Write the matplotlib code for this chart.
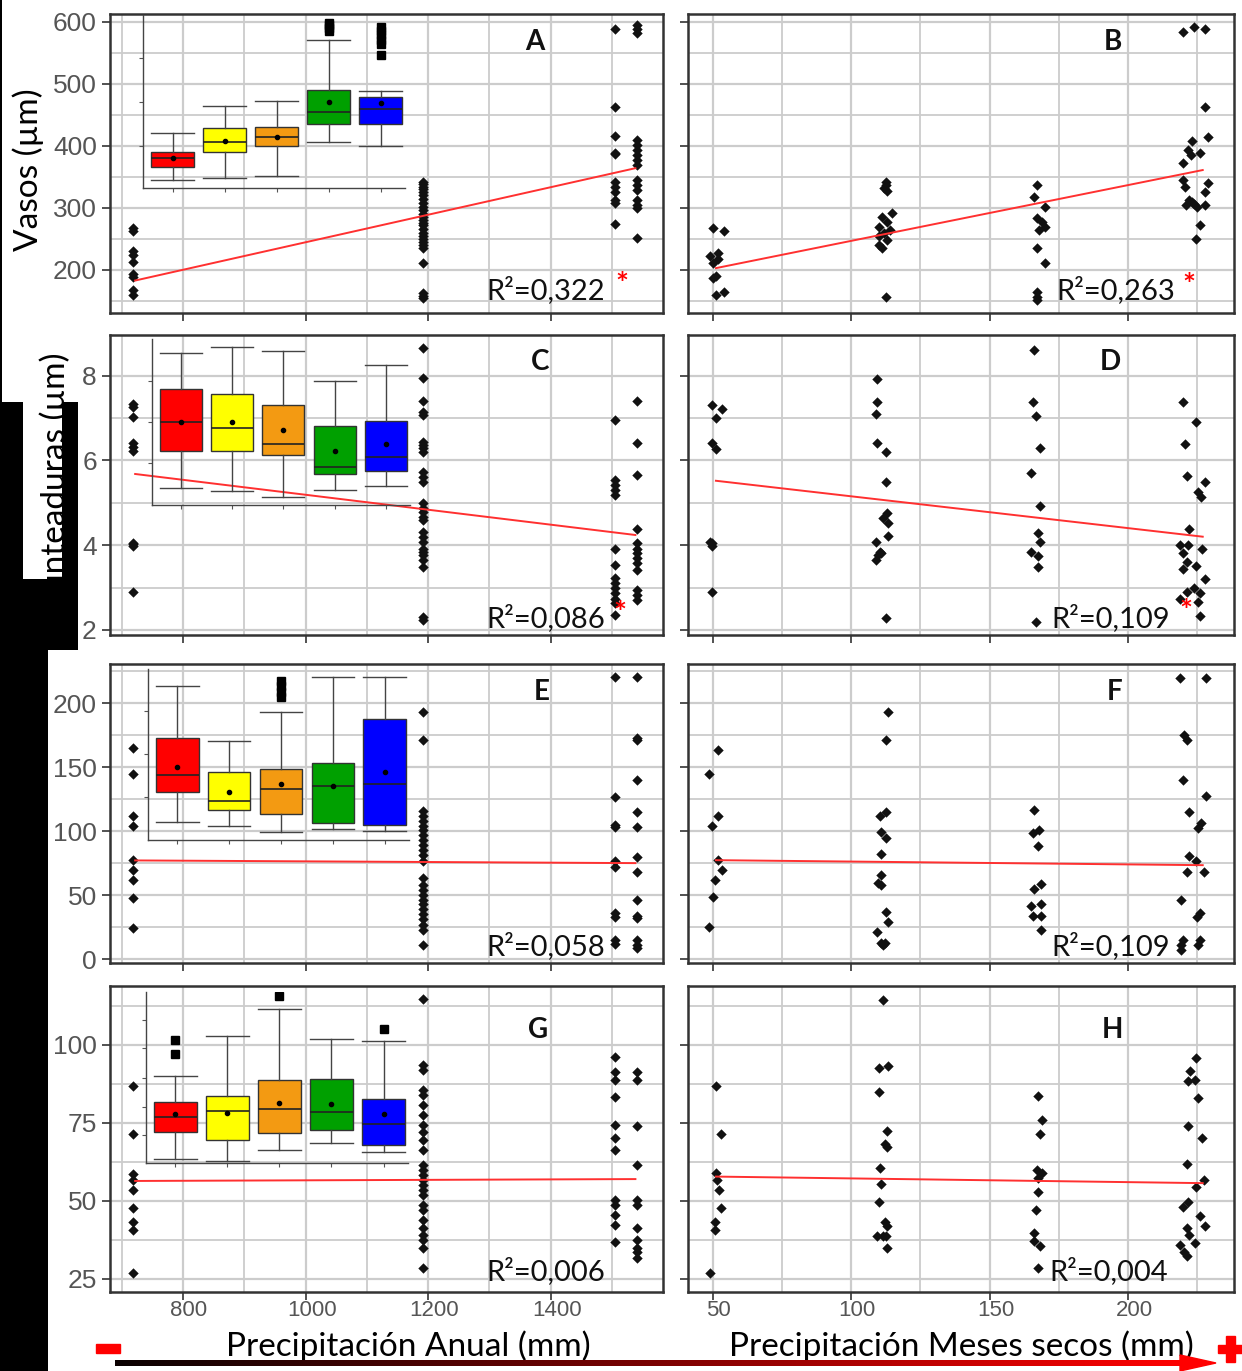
import numpy as np
import matplotlib.pyplot as plt
from matplotlib.colors import LinearSegmentedColormap
from matplotlib.patches import Rectangle, Polygon
from matplotlib.transforms import ScaledTranslation

plt.rcParams['font.family'] = ['Liberation Sans', 'DejaVu Sans']

W, H = 1242, 1371

# sites along annual precipitation (left column panels)
prec_anual = [718, 1192, 1504, 1540]

# A - Vasos vs Precipitacion anual (one list per site)
a_cols = [[268, 263, 230, 224, 213, 193, 188, 167, 160],
          [342, 338, 334, 330, 326, 320, 314, 308, 302, 296, 290, 285, 280, 276, 272,
           266, 260, 255, 250, 245, 240, 235, 212, 163, 158, 155],
          [589, 463, 416, 389, 387, 342, 334, 326, 313, 308, 274],
          [595, 589, 581, 410, 401, 393, 385, 377, 369, 345, 337, 329, 313, 305, 300, 251]]
# C - Punteaduras vs Precipitacion anual
c_cols = [[7.33, 7.25, 7.03, 6.42, 6.31, 6.23, 4.06, 4.02, 3.98, 2.9],
          [8.65, 7.94, 7.41, 7.15, 7.07, 6.44, 6.36, 6.29, 6.21, 5.73, 5.62, 5.50, 4.99, 4.87,
           4.79, 4.67, 4.59, 4.32, 4.20, 4.08, 3.92, 3.84, 3.77, 3.65, 3.49, 2.31, 2.23],
          [6.95, 5.54, 5.42, 5.30, 5.18, 3.92, 3.53, 3.22, 3.10, 2.98, 2.86, 2.74, 2.63, 2.35],
          [7.41, 6.40, 5.66, 4.38, 4.04, 3.92, 3.81, 3.69, 3.57, 3.41, 2.94, 2.82, 2.70]]
# E
e_cols = [[165, 144.5, 112, 104, 77.3, 69.5, 61.7, 47.9, 24.5],
          [193, 171, 116, 112, 108, 104, 101, 97, 93, 89, 85, 81, 77, 63, 58, 54, 50, 46, 43,
           39, 35, 31, 27, 23, 11],
          [220, 127, 105, 103, 77, 72, 36, 33, 15, 12],
          [220, 173, 171, 140, 115, 103, 80, 68, 46, 34, 32, 15, 11, 9]]
# G
g_cols = [[86.9, 71.5, 58.7, 56.7, 53.5, 47.7, 43.4, 40.7, 27.0],
          [114.7, 93.6, 92, 85.6, 84, 80.8, 77.6, 74.4, 72.1, 69.6, 66.3, 61.5, 59.9, 58.3,
           56.7, 55.1, 53.5, 51.9, 48.7, 47.1, 43.9, 41.3, 39.1, 37.5, 34.9, 28.5],
          [96.2, 91.3, 88.8, 83.3, 74.4, 70.2, 66.3, 50.3, 48.7, 45.5, 42.3, 36.9],
          [91.3, 88.8, 74.0, 61.5, 50.3, 48.7, 41.3, 37.5, 34.9, 33.7, 31.7]]

# right column panels: (precipitacion meses secos, value)
b_pts = [(50, 268), (54, 263), (49, 222), (52, 227), (50, 211), (51, 190), (50, 187), (51, 160),
         (54, 165), (52, 218),
         (112.5, 342), (112.5, 337), (112, 332), (113, 327), (114.8, 291), (111, 286), (113, 278),
         (110, 270), (114, 265), (112, 259), (110, 254), (113, 249), (110, 240), (111, 235),
         (112.5, 157),
         (167, 337), (166, 318), (170, 302), (167, 283), (169, 278), (170, 270), (168, 265),
         (167, 235), (170, 211), (167, 164), (167, 157), (167, 152),
         (220, 584), (224, 592), (228, 589), (228, 463), (229, 415), (223, 408), (221.5, 393),
         (226, 388), (222.8, 385), (220, 372), (220, 345), (229, 340), (220.5, 334), (228, 326),
         (222, 313), (223, 310), (224, 307), (221, 305), (225, 302), (228, 305), (226, 273),
         (224.5, 250)]
d_pts = [(49.5, 7.31), (53.4, 7.21), (51.1, 7.01), (49.5, 6.42), (51.1, 6.27), (49.1, 4.08),
         (49.8, 4.04), (49.5, 3.98), (49.8, 2.90),
         (109.4, 7.91), (109.4, 7.39), (109, 7.10), (109.4, 6.40), (112.5, 6.19), (112.5, 5.50),
         (112.9, 4.77), (111.6, 4.63), (113.3, 4.53), (113.3, 4.21), (109, 4.08), (110.3, 3.84),
         (109.6, 3.77), (109, 3.65), (110.9, 3.81), (112.5, 2.29),
         (166.2, 8.61), (165.6, 7.39), (166.8, 7.05), (168.1, 6.30), (164.9, 5.70), (168.1, 4.93),
         (167.5, 4.29), (168.1, 4.08), (164.9, 3.84), (167.5, 3.74), (167.5, 3.48), (166.8, 2.19),
         (219.9, 7.39), (224.7, 6.91), (220.5, 6.38), (221.4, 5.64), (227.7, 5.50), (225.3, 5.26),
         (226.4, 5.14), (222.1, 4.37), (218.8, 4.0), (221.7, 4.0), (219.9, 3.81), (226.6, 3.90),
         (221.4, 3.61), (224.7, 3.51), (219.9, 3.43), (227.7, 3.19), (223.8, 3.0), (221.4, 2.90),
         (226, 2.86), (218.8, 2.72), (225.3, 2.66), (226, 2.33)]
f_pts = [(51.7, 163.3), (48.7, 144.5), (51.7, 111.7), (49.5, 103.9), (51.7, 77.3), (53.3, 70),
         (50.8, 61.7), (50.2, 48.2), (48.7, 24.8),
         (113.3, 192.7), (112.5, 171.1), (112.5, 114.6), (110.3, 112), (110.9, 99.5), (112.5, 94.3),
         (110.6, 82), (110.6, 65.6), (109.6, 59.1), (110.6, 57.8), (112.5, 36.9), (113.3, 29.1),
         (109.4, 21.3), (110.6, 12.3), (112.2, 12.3), (111.6, 11),
         (166.2, 116.4), (165.6, 98.2), (167.9, 100.8), (167.5, 88.3), (168.4, 58.6), (166.2, 54.5),
         (164.9, 41.4), (168.4, 43), (165.6, 33.6), (168.4, 33.6), (168.4, 22.7),
         (218.8, 219.3), (228.2, 219.3), (220.2, 175), (221.2, 171.1), (219.9, 139.8), (228.2, 127.3),
         (222.1, 115.1), (226.4, 106), (225.3, 102.1), (222.1, 80.5), (224.7, 76.8), (221.4, 68.2),
         (227.3, 68.2), (219.2, 46.1), (226, 35.7), (225, 32.6), (219.9, 14.8), (219.1, 10.9),
         (219.2, 7.5), (226, 14.8), (225.3, 10.9)]
h_pts = [(51.1, 86.9), (52.8, 71.5), (51.1, 58.9), (51.5, 56.7), (52.1, 53.5), (52.8, 47.7),
         (50.7, 43.4), (50.7, 40.7), (49.1, 27.0),
         (111.6, 114.4), (109.9, 92.5), (113.3, 93.3), (109.9, 84.8), (112.9, 72.5), (112.2, 68.3),
         (112.9, 67.4), (110.3, 60.5), (110.9, 55.4), (110, 49.5), (112.2, 43.4), (112.9, 41.8),
         (109.4, 38.8), (111.6, 38.6), (112.5, 38.6), (112.9, 34.8),
         (167.5, 83.7), (168.8, 76), (168.1, 71.5), (167.2, 59.9), (168.8, 58.9), (167.5, 57.3),
         (167.5, 52.8), (166.8, 47.1), (165.9, 39.6), (165.9, 37), (168.1, 35.4), (167.5, 28.4),
         (224.7, 95.9), (222.5, 91.5), (221.7, 88.3), (224.3, 88.8), (225.3, 82.9), (221.7, 74.1),
         (226.9, 70.1), (221.2, 61.9), (227.3, 56.7), (224.7, 54.6), (221.7, 49.8), (219.9, 48.2),
         (226, 45.2), (227.7, 42), (221.2, 41.2), (222.1, 39.1), (224.1, 36.6), (218.8, 35.9),
         (220.2, 33.7), (221.4, 32.4)]

# regression lines (start, end)
fit_x_left = [722, 1538]
fit_x_right = [51.1, 227]
fit_left = [(183, 364), (5.68, 4.24), (77.1, 75.0), (56.4, 57.0)]
fit_right = [(203, 361), (5.52, 4.20), (77.3, 73.4), (57.8, 55.7)]

r2_left = ['0,322', '0,086', '0,058', '0,006']
r2_right = ['0,263', '0,109', '0,109', '0,004']
sig_left = [True, True, False, False]
sig_right = [True, True, False, False]
letters_left = ['A', 'C', 'E', 'G']
letters_right = ['B', 'D', 'F', 'H']

# inset boxplots: (whislo, q1, med, q3, whishi, mean)
box_colors = ['#ff0000', '#ffff00', '#f39a12', '#00a000', '#0000ff']
a_box = [(345, 365.6, 380, 390.7, 421.3, 381), (348.8, 389.7, 406.8, 428.3, 464.3, 407.9),
         (351.5, 399.8, 413.9, 430, 472.8, 413.9), (406.8, 435.3, 454, 489.5, 570.5, 470.7),
         (400.3, 435.3, 459, 479.2, 488.9, 468.6)]
a_fliers = [[], [], [], [598, 594, 590, 585], [592, 585, 578, 571, 564, 547]]
c_box = [(5.34, 6.22, 6.90, 7.69, 8.53, 6.91), (5.28, 6.22, 6.77, 7.57, 8.68, 6.91),
         (5.13, 6.12, 6.39, 7.30, 8.59, 6.71), (5.29, 5.69, 5.85, 6.81, 7.87, 6.22),
         (5.40, 5.74, 6.09, 6.94, 8.25, 6.38)]
c_fliers = [[], [], [], [], []]
e_box = [(106.8, 130.7, 144, 172.4, 213.5, 150), (103.9, 116.4, 123.4, 145.8, 170, 130.7),
         (99.2, 113.3, 133, 148.7, 193, 137), (101.8, 106.5, 135.4, 152.9, 220.3, 134.9),
         (100, 104.5, 136.7, 187.5, 220.3, 145.9)]
e_fliers = [[], [], [217, 213, 209, 205], [], []]
g_box = [(63.5, 72.0, 76.9, 81.6, 90.2, 77.9), (62.8, 69.5, 78.8, 83.8, 102.8, 78.2),
         (66.3, 71.8, 79.4, 88.8, 111.5, 81.5), (68.6, 72.9, 78.5, 89.2, 102.1, 81.2),
         (65.7, 68.0, 74.6, 82.6, 101.3, 77.9)]
g_fliers = [[101.6, 97.1], [], [115.7], [], [105.3]]

left_ticks = [800, 1000, 1200, 1400]
left_minor = [700, 900, 1100, 1300, 1500]
right_ticks = [50, 100, 150, 200]
right_minor = [75, 125, 175, 225]
y_ticks = [[200, 300, 400, 500, 600], [2, 4, 6, 8], [0, 50, 100, 150, 200], [25, 50, 75, 100]]
y_minor = [[150, 250, 350, 450, 550], [3, 5, 7], [25, 75, 125, 175, 225], [37.5, 62.5, 87.5, 112.5]]
y_lims = [(130.7, 612.4), (1.88, 8.96), (-3, 230.5), (20.8, 118.9)]

fig = plt.figure(figsize=(W / 100, H / 100), dpi=100)


def px_box(x0, x1, y0, y1):
    return [x0 / W, 1 - y1 / H, (x1 - x0) / W, (y1 - y0) / H]


rows_px = [(14, 313), (335, 635), (664, 963), (986, 1292)]
cols_px = [(110, 663), (688, 1234)]
r2_pos = [[(0.895, 0.045), (0.892, 0.045)], [(0.895, 0.025), (0.883, 0.028)],
          [(0.895, 0.027), (0.883, 0.027)], [(0.895, 0.04), (0.879, 0.04)]]
star_pos = [[(0.926, 0.095), (0.918, 0.09)], [(0.922, 0.07), (0.912, 0.075)]]
letter_pos = [[(0.769, 0.906), (0.778, 0.906)], [(0.778, 0.91), (0.773, 0.91)],
              [(0.781, 0.906), (0.782, 0.906)], [(0.774, 0.856), (0.778, 0.856)]]

left_data = [a_cols, c_cols, e_cols, g_cols]
right_data = [b_pts, d_pts, f_pts, h_pts]
shift = ScaledTranslation(6 / 100, 0, fig.dpi_scale_trans)

for r in range(4):
    for c in range(2):
        ax = fig.add_axes(px_box(*cols_px[c], *rows_px[r]))
        if c == 0:
            for x, ys in zip(prec_anual, left_data[r]):
                ax.scatter([x] * len(ys), ys, marker='D', s=28, color='#111111', linewidths=0, zorder=3)
            ax.plot(fit_x_left, fit_left[r], color='#ff3030', lw=1.4, zorder=4)
            ax.set_xlim(681, 1583)
            ax.set_xticks(left_ticks)
            ax.set_xticks(left_minor, minor=True)
            r2, sig, let = r2_left[r], sig_left[r], letters_left[r]
        else:
            pts = np.array(right_data[r])
            ax.scatter(pts[:, 0], pts[:, 1], marker='D', s=28, color='#111111', linewidths=0, zorder=3)
            ax.plot(fit_x_right, fit_right[r], color='#ff3030', lw=1.4, zorder=4)
            ax.set_xlim(41, 238.3)
            ax.set_xticks(right_ticks)
            ax.set_xticks(right_minor, minor=True)
            r2, sig, let = r2_right[r], sig_right[r], letters_right[r]
        ax.set_ylim(y_lims[r])
        ax.set_yticks(y_ticks[r])
        ax.set_yticks(y_minor[r], minor=True)
        ax.grid(which='major', color='#cccccc', lw=1.6)
        ax.grid(which='minor', color='#cccccc', lw=1.3)
        ax.set_axisbelow(True)
        ax.tick_params(which='minor', length=0)
        ax.tick_params(which='major', length=5.5, width=1.2, color='#333333',
                       labelcolor='#555555', labelsize=19, pad=4)
        for s in ax.spines.values():
            s.set_color('#333333')
            s.set_linewidth(1.8)
        if c == 1:
            ax.set_yticklabels([])
        if r < 3:
            ax.set_xticklabels([])
        else:
            ax.set_xticklabels([str(t) for t in ax.get_xticks()], fontsize=16, color='#555555',
                               family=['Liberation Sans Narrow', 'Liberation Sans'])
            ax.tick_params(axis='x', pad=0.5)
            for lbl in ax.get_xticklabels():
                lbl.set_transform(lbl.get_transform() + shift)
        tx, ty = r2_pos[r][c]
        ax.text(tx, ty, 'R²=' + r2, transform=ax.transAxes, ha='right', va='baseline',
                fontsize=21, family='Lato', color='#111111', zorder=6)
        if sig:
            sx, sy = star_pos[r][c]
            ax.text(sx, sy, '*', transform=ax.transAxes, ha='center', va='center',
                    fontsize=22, fontweight='bold', color='#ff0000', family='Lato', zorder=6)
        lx, ly = letter_pos[r][c]
        ax.text(lx, ly, let, transform=ax.transAxes, ha='center', va='center',
                fontsize=20, fontweight='bold', family='Lato', color='#111111', zorder=6)

# inset boxplots in the left column
insets = [((143, 405, 15, 188), (332.2, 610.8), [400, 470, 541], a_box, a_fliers),
          ((151.7, 410, 339, 505), (4.947, 8.867), [5.93, 6.91, 7.88], c_box, c_fliers),
          ((147.7, 409, 669, 840), (93, 226.6), [126.8, 159.9, 193.7], e_box, e_fliers),
          ((145.7, 408, 991.7, 1163.3), (62.1, 117.1), [71.2, 80.2, 89.5, 98.9, 108], g_box, g_fliers)]
for rect, ylim, yt, box, fl in insets:
    iax = fig.add_axes(px_box(*rect))
    iax.patch.set_alpha(0)
    iax.set_xlim(0.43, 5.47)
    iax.set_ylim(ylim)
    stats = [dict(whislo=b[0], q1=b[1], med=b[2], q3=b[3], whishi=b[4], mean=b[5], fliers=f)
             for b, f in zip(box, fl)]
    bp = iax.bxp(stats, positions=[1, 2, 3, 4, 5], widths=0.82, capwidths=0.82,
                 patch_artist=True, showmeans=True,
                 boxprops=dict(edgecolor='#333333', linewidth=1),
                 medianprops=dict(color='#222222', linewidth=1.2),
                 whiskerprops=dict(color='#444444', linewidth=1),
                 capprops=dict(color='#444444', linewidth=1),
                 meanprops=dict(marker='o', markersize=3, markerfacecolor='black',
                                markeredgecolor='black'),
                 flierprops=dict(marker='s', markersize=5.5, markerfacecolor='black',
                                 markeredgecolor='black'))
    for patch, col in zip(bp['boxes'], box_colors):
        patch.set_facecolor(col)
    for s in ['top', 'right']:
        iax.spines[s].set_visible(False)
    for s in ['left', 'bottom']:
        iax.spines[s].set_color('#444444')
        iax.spines[s].set_linewidth(1)
    iax.set_xticks([1, 2, 3, 4, 5])
    iax.set_xticklabels([])
    iax.set_yticks(yt)
    iax.set_yticklabels([])
    iax.tick_params(length=3, width=0.8, color='#555555')

# axis titles
fig.text(28 / W, 1 - 170 / H, 'Vasos (µm)', rotation=90, ha='center', va='center',
         fontsize=24, family='Lato')
fig.text(55 / W, 1 - 482 / H, 'Punteaduras (µm)', rotation=90, ha='center', va='center',
         fontsize=24, family='Lato')
fig.text(408 / W, 1 - 1346 / H, 'Precipitación Anual (mm)', ha='center', va='center',
         fontsize=24, family='Lato')
fig.text(961 / W, 1 - 1346 / H, 'Precipitación Meses secos (mm)', ha='center', va='center',
         fontsize=24, family='Lato')

# overlay: black masks and the gradient arrow
ax0 = fig.add_axes([0, 0, 1, 1])
ax0.set_zorder(10)
ax0.patch.set_alpha(0)
grad = np.linspace(0, 1, 256).reshape(1, -1)
cmap = LinearSegmentedColormap.from_list('bk_red', ['#0a0000', '#7a0000', '#ff0000'])
ax0.imshow(grad, extent=[115, 1185, 1366, 1360], cmap=cmap, aspect='auto')
ax0.add_patch(Polygon([(1180, 1355), (1216, 1363), (1180, 1371)], closed=True, color='#ff0000'))
ax0.add_patch(Rectangle((96, 1344), 24, 9, color='#ff0000'))
ax0.add_patch(Rectangle((1218, 1345), 24, 8, color='#ff0000'))
ax0.add_patch(Rectangle((1226, 1336), 9, 26, color='#ff0000'))
for x0, y0, w, h in [(0, 0, 2, 402), (0, 401.7, 22.7, 248.3), (61.7, 401.7, 16, 248.3),
                     (0, 579, 77.7, 71), (0, 650, 48, 721)]:
    ax0.add_patch(Rectangle((x0, y0), w, h, color='black', lw=0))
ax0.set_xlim(0, W)
ax0.set_ylim(H, 0)
ax0.axis('off')

fig.savefig('out.png', dpi=100)
